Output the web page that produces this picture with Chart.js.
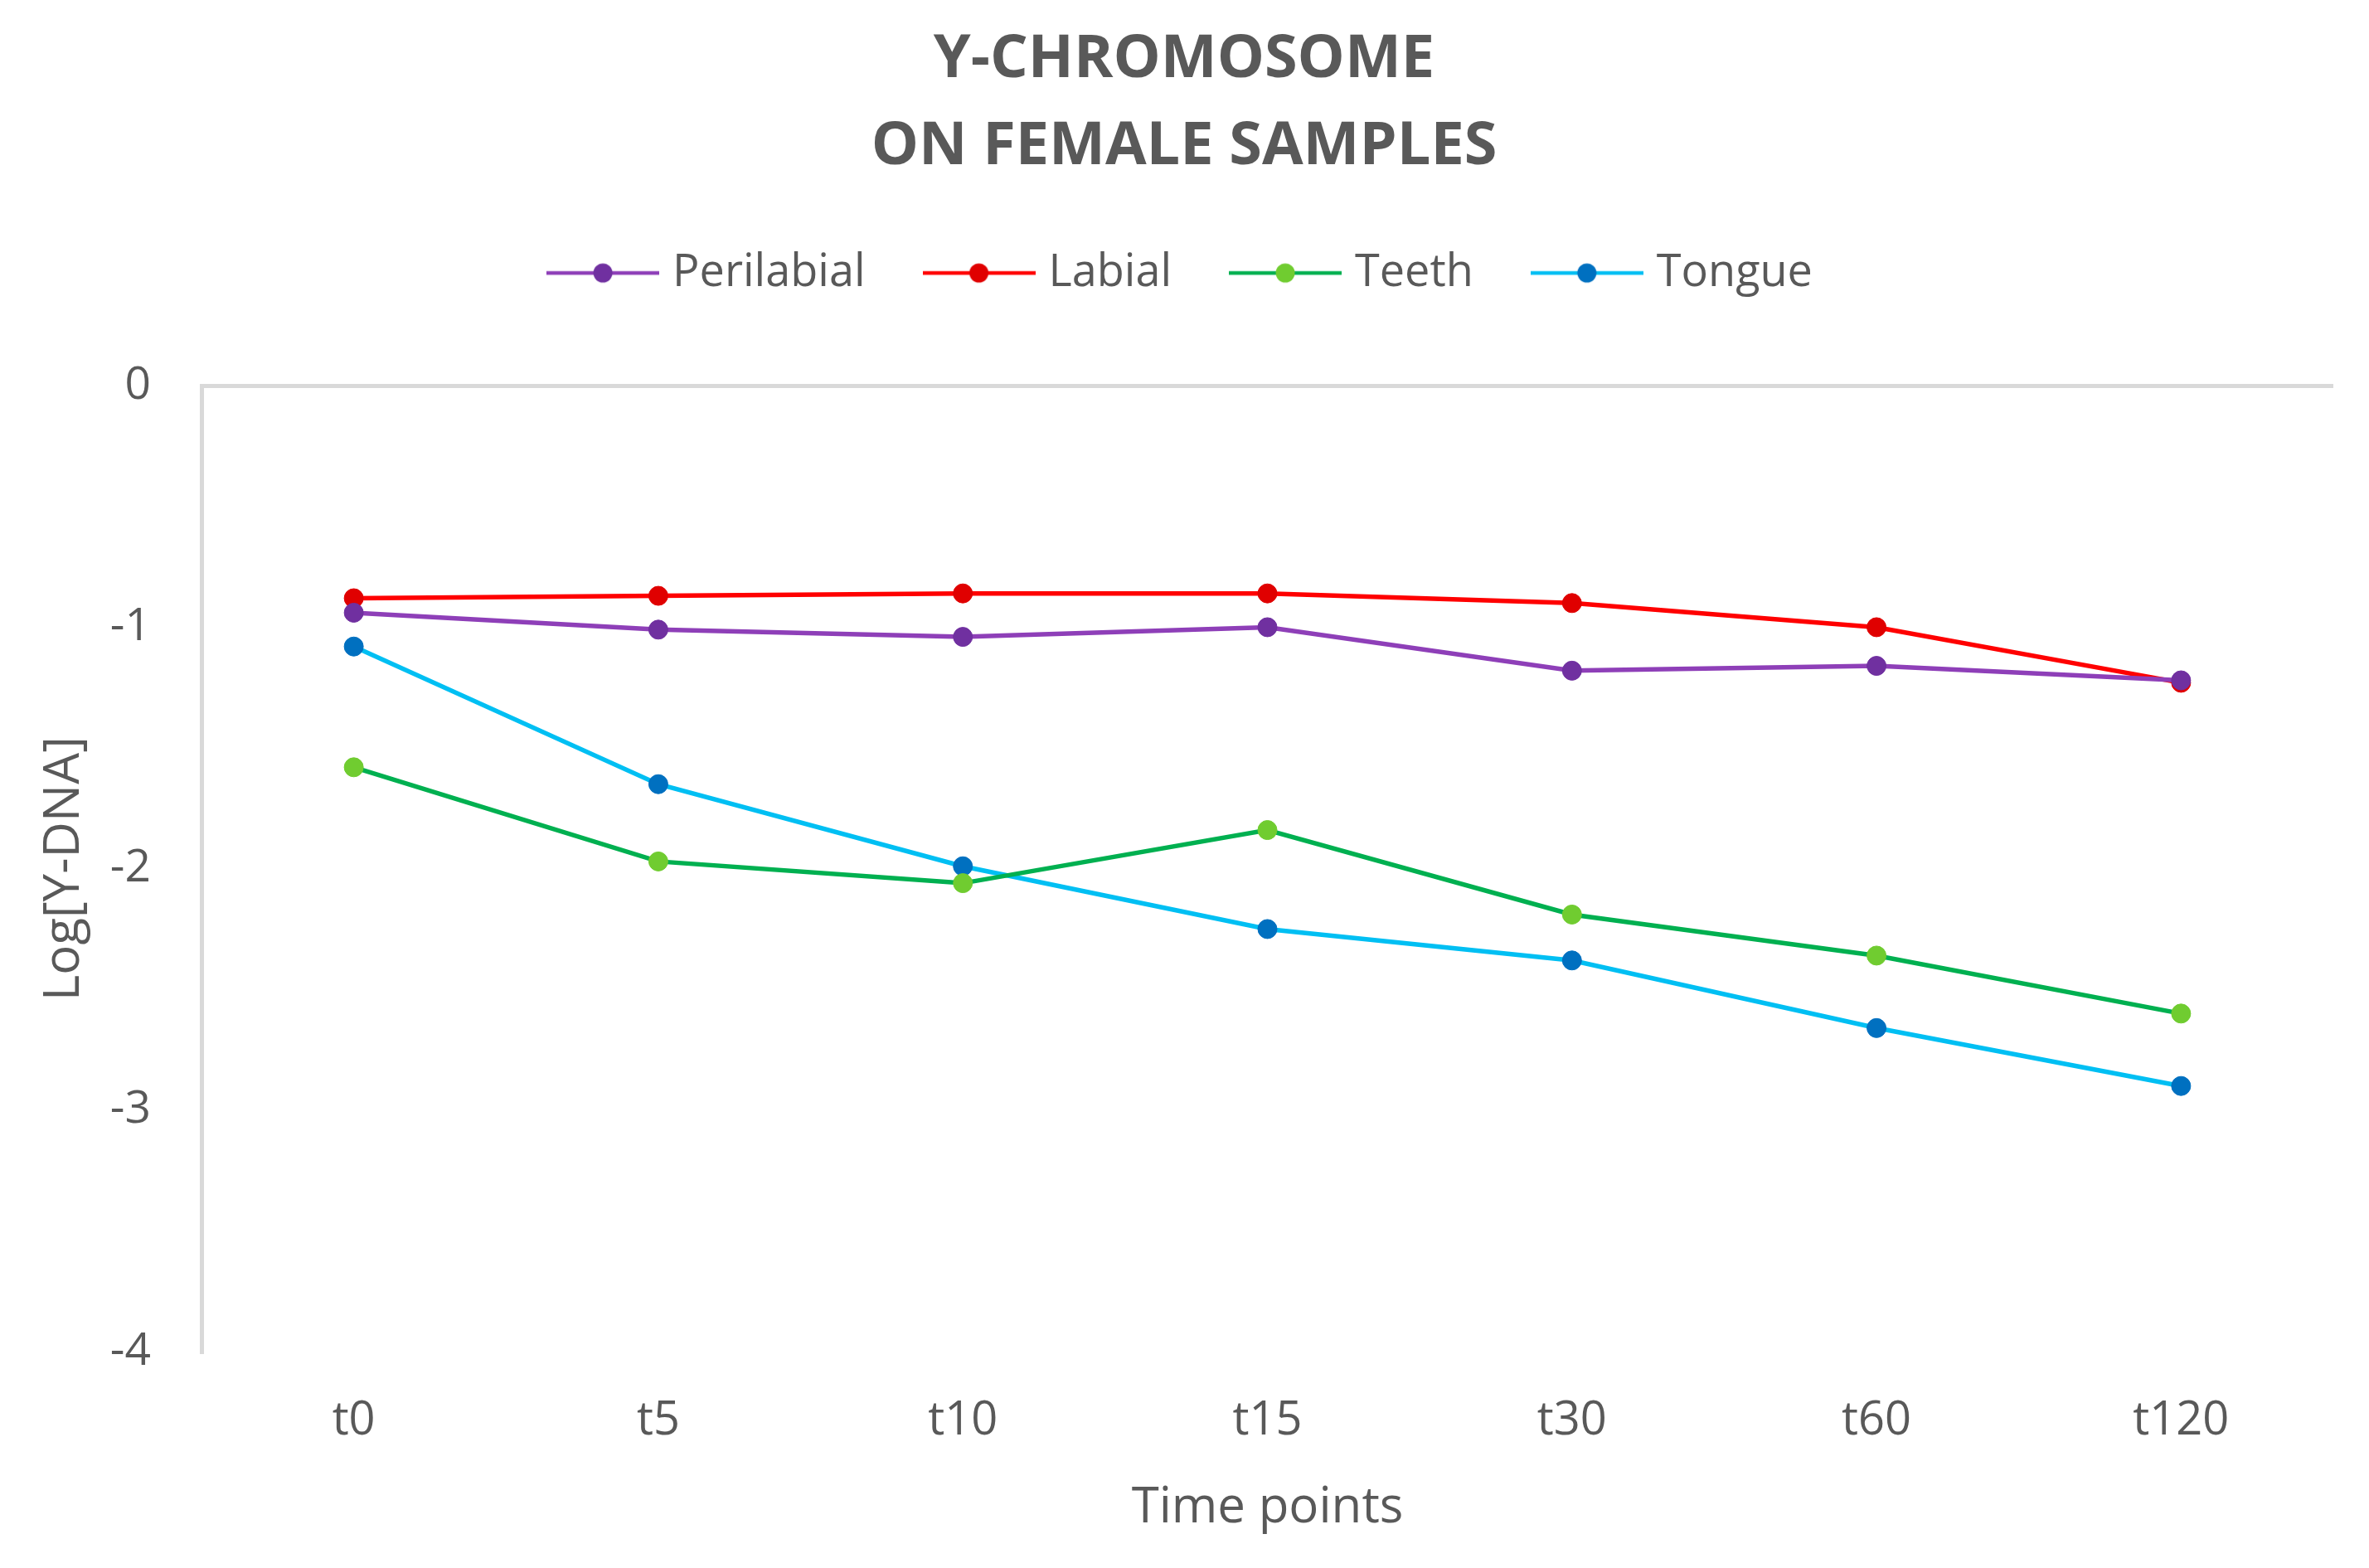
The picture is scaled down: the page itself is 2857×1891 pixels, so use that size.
<!DOCTYPE html>
<html>
<head>
<meta charset="utf-8">
<title>Y-chromosome on female samples</title>
<script src="https://cdn.jsdelivr.net/npm/chart.js@4.4.1/dist/chart.umd.min.js"></script>
<style>
  body { margin: 0; background: #ffffff; }
  #chart { display: block; }
</style>
</head>
<body>
<canvas id="chart" width="2857" height="1891"></canvas>
<script>
// values
const timePoints = ["t0", "t5", "t10", "t15", "t30", "t60", "t120"];
const perilabial = [-0.94, -1.01, -1.04, -1.00, -1.18, -1.16, -1.22];
const labial = [-0.88, -0.87, -0.86, -0.86, -0.90, -1.00, -1.23];
const teeth = [-1.58, -1.97, -2.06, -1.84, -2.19, -2.36, -2.60];
const tongue = [-1.08, -1.65, -1.99, -2.25, -2.38, -2.66, -2.90];
const yTicks = [0, -1, -2, -3, -4];

const textColor = "#595959";
const fontName = "'Open Sans', 'Liberation Sans', sans-serif";

// legend symbol: short line with a dot on it, like the excel legend
function legendSymbol(lineColor, dotColor) {
    let c = document.createElement("canvas");
    c.width = 136;
    c.height = 26;
    let ctx = c.getContext("2d");
    ctx.strokeStyle = lineColor;
    ctx.lineWidth = 4.5;
    ctx.beginPath();
    ctx.moveTo(0, 13);
    ctx.lineTo(136, 13);
    ctx.stroke();
    ctx.fillStyle = dotColor;
    ctx.beginPath();
    ctx.arc(68, 13, 11.5, 0, Math.PI * 2);
    ctx.fill();
    return c;
}

function makeSet(label, data, lineColor, dotColor) {
    return {
        label: label,
        data: data,
        borderColor: lineColor,
        backgroundColor: dotColor,
        pointBackgroundColor: dotColor,
        pointBorderColor: dotColor,
        pointRadius: 11.5,
        pointBorderWidth: 1,
        borderWidth: 5.5,
        tension: 0,
        pointStyle: "circle",
        legendStyle: legendSymbol(lineColor, dotColor)
    };
}

const sets = [
    makeSet("Perilabial", perilabial, "#8E3FB8", "#7030A0"),
    makeSet("Labial", labial, "#FF0000", "#E00000"),
    makeSet("Teeth", teeth, "#00B050", "#70CC30"),
    makeSet("Tongue", tongue, "#00BFF3", "#0070C0")
];

Chart.defaults.font.family = fontName;
Chart.defaults.color = textColor;

new Chart(document.getElementById("chart"), {
    type: "line",
    data: {
        labels: timePoints,
        datasets: sets
    },
    options: {
        responsive: false,
        devicePixelRatio: 1,
        animation: false,
        layout: {
            padding: { top: 20, left: 42, right: 43, bottom: 0 }
        },
        plugins: {
            title: {
                display: true,
                text: ["Y-CHROMOSOME", "ON FEMALE SAMPLES"],
                color: textColor,
                font: { size: 72, weight: "bold", lineHeight: 1.46 },
                // legend padding also adds space above it, so pull it back up a bit
                padding: { top: 0, bottom: -8 }
            },
            // empty subtitle below the legend, only to leave the gap above the plot
            subtitle: {
                display: true,
                text: " ",
                weight: 500,
                font: { size: 10, lineHeight: 1 },
                padding: { top: 89, bottom: 0 }
            },
            legend: {
                position: "top",
                labels: {
                    color: textColor,
                    font: { size: 54 },
                    usePointStyle: true,
                    // symbol image is 136 wide; a smaller box pulls the text closer to it
                    pointStyleWidth: 114,
                    padding: 80,
                    generateLabels: chart => chart.data.datasets.map((ds, i) => ({
                        text: ds.label,
                        pointStyle: ds.legendStyle,
                        fontColor: textColor,
                        datasetIndex: i,
                        hidden: false,
                        lineWidth: 0
                    }))
                }
            },
            tooltip: { enabled: false }
        },
        scales: {
            x: {
                type: "category",
                offset: true,
                grid: { display: false },
                border: { display: false },
                afterFit: scale => { scale.height = 261; },
                ticks: {
                    color: textColor,
                    font: { size: 56 },
                    padding: 42
                },
                title: {
                    display: true,
                    text: "Time points",
                    color: textColor,
                    font: { size: 60 },
                    padding: { top: 10, bottom: 36 }
                }
            },
            y: {
                min: -4,
                max: 0,
                afterBuildTicks: scale => { scale.ticks = yTicks.map(v => ({ value: v })); },
                afterFit: scale => { scale.width = 201; },
                grid: {
                    drawTicks: false,
                    lineWidth: 5,
                    color: ctx => (ctx.tick && ctx.tick.value === 0) ? "#d9d9d9" : "rgba(0,0,0,0)"
                },
                border: { display: true, color: "#d9d9d9", width: 5 },
                ticks: {
                    color: textColor,
                    font: { size: 55 },
                    padding: 61
                },
                title: {
                    display: true,
                    text: "Log[Y-DNA]",
                    color: textColor,
                    font: { size: 60 },
                    padding: { top: 0, bottom: 20 }
                }
            }
        }
    }
});
</script>
</body>
</html>
